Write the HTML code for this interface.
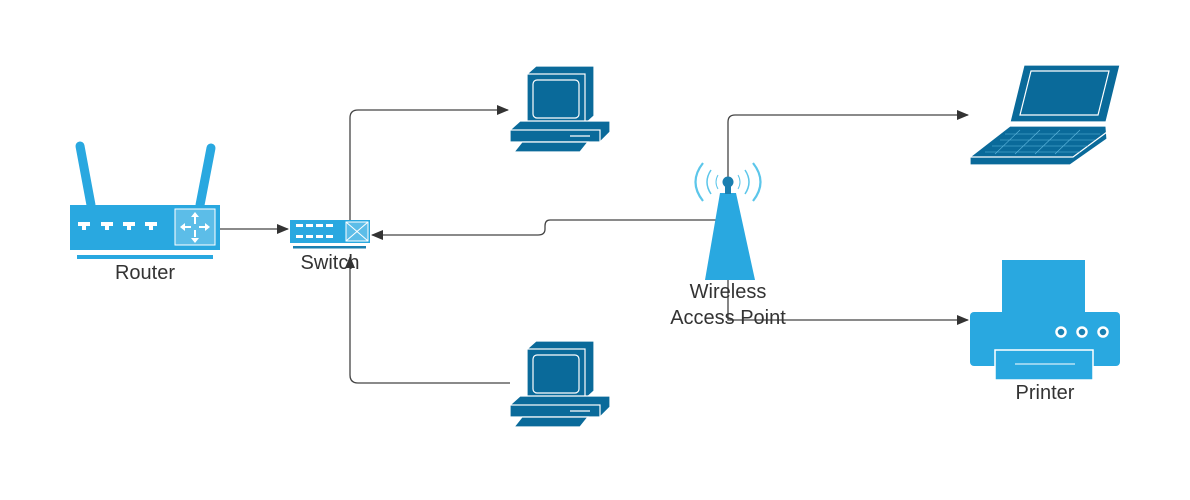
<!DOCTYPE html>
<html><head><style>body{margin:0;background:#fff}svg{display:block}text{font-family:"Liberation Sans",sans-serif;font-size:20px;fill:#333;text-anchor:middle}</style></head>
<body>
<svg width="1190" height="500" viewBox="0 0 1190 500">
<defs><marker id="a" markerWidth="12" markerHeight="10" refX="11" refY="5" orient="auto" markerUnits="userSpaceOnUse"><path d="M0,0 L12,5 L0,10 Z" fill="#333"/></marker></defs>
<g fill="none" stroke="#444" stroke-width="1.3">
<path d="M220,229 H288" marker-end="url(#a)"/>
<path d="M350,220 V118 Q350,110 358,110 H508" marker-end="url(#a)"/>
<path d="M510,383 H358 Q350,383 350,375 V257" marker-end="url(#a)"/>
<path d="M717,220 H550 Q545,220 545,226 V229 Q545,235 538,235 H372" marker-end="url(#a)"/>
<path d="M728,180 V122 Q728,115 735,115 H968" marker-end="url(#a)"/>
<path d="M728,280 V320 H968" marker-end="url(#a)"/>
</g>
<!-- router -->
<g stroke="#29a8e0" stroke-width="9" stroke-linecap="round"><path d="M80,146 L91,205"/><path d="M211,148 L200,205"/></g>
<g fill="#29a8e0">
<rect x="70" y="205" width="150" height="45"/>
<rect x="77" y="255" width="136" height="4"/>
</g>
<rect x="175" y="209" width="40" height="36" fill="#5cbde8" stroke="#fff" stroke-width="1"/>
<g fill="#fff"><path d="M78,222h12v4h-4v4h-4v-4h-4z"/><path d="M101,222h12v4h-4v4h-4v-4h-4z"/><path d="M123,222h12v4h-4v4h-4v-4h-4z"/><path d="M145,222h12v4h-4v4h-4v-4h-4z"/>
<path d="M195,212 l-4,5h8z M195,243 l-4,-5h8z M180,227 l5,-4v8z M210,227 l-5,-4v8z"/>
<path d="M194,217h2v7h-2z M194,230h2v7h-2z M184,226h7v2h-7z M199,226h7v2h-7z"/></g>
<text x="145" y="279">Router</text>
<!-- switch -->
<rect x="290" y="220" width="80" height="23" fill="#29a8e0"/>
<rect x="346" y="222" width="22" height="19" fill="#5cbde8" stroke="#fff"/>
<path d="M346,222 L368,241 M368,222 L346,241" stroke="#fff"/>
<g fill="#fff"><rect x="296" y="224" width="7" height="3"/><rect x="306" y="224" width="7" height="3"/><rect x="316" y="224" width="7" height="3"/><rect x="326" y="224" width="7" height="3"/><rect x="296" y="235" width="7" height="3"/><rect x="306" y="235" width="7" height="3"/><rect x="316" y="235" width="7" height="3"/><rect x="326" y="235" width="7" height="3"/></g>
<rect x="293" y="246" width="73" height="2.5" fill="#1a7fb0"/>
<text x="330" y="269">Switch</text>
<!-- computers -->
<g id="pc" fill="#0a6a9a" stroke="#fff" stroke-width="1.2">
<path d="M527,74 L536,66 L594,66 L594,116 L585,124 Z"/>
<rect x="527" y="74" width="58" height="50"/>
<rect x="533" y="80" width="46" height="38" rx="4" fill="none"/>
<path d="M510,130 L520,121 L610,121 L610,132 L600,142 Z"/>
<rect x="510" y="130" width="90" height="12"/>
<path d="M570,136 H590" />
<path d="M522,142 L588,142 L580,152 L514,152 Z"/>
</g>
<use href="#pc" transform="translate(0,275)"/>
<!-- AP -->
<path d="M720,193 L736,193 L755,280 L705,280 Z" fill="#29a8e0"/>
<rect x="725" y="182" width="6" height="12" fill="#1a7fb0"/>
<circle cx="728" cy="182" r="5.5" fill="#1a7fb0"/>
<g fill="none" stroke="#5cc6ea" stroke-width="2.2">
<path d="M703,163 Q688,182 703,201"/><path d="M753,163 Q768,182 753,201"/>
<path d="M711,170 Q703,182 711,194" stroke-width="1.5"/><path d="M745,170 Q753,182 745,194" stroke-width="1.5"/>
<path d="M718,175 Q714,182 718,189" stroke-width="1"/><path d="M738,175 Q742,182 738,189" stroke-width="1"/>
</g>
<text x="728" y="298">Wireless</text>
<text x="728" y="324">Access Point</text>
<!-- laptop -->
<g fill="#0a6a9a" stroke="#fff" stroke-width="1.2">
<path d="M1024,65 L1120,65 L1106,122 L1010,122 Z"/>
<path d="M1031,71 L1109,71 L1098,115 L1020,115 Z" fill="none"/>
<path d="M1010,126 L1106,126 L1107,139 L1070,165 L970,165 L970,157 Z"/>
<path d="M970,157 H1073 L1107,132" fill="none"/>
</g>
<g stroke="#5fb7de" stroke-width="0.6"><path d="M1005,134 H1100 M1000,140 H1095 M992,146 H1088 M985,152 H1080 M1020,130 L995,154 M1040,130 L1015,154 M1060,130 L1035,154 M1080,130 L1055,154"/></g>
<!-- printer -->
<g fill="#29a8e0">
<rect x="1002" y="260" width="83" height="52"/>
<rect x="970" y="312" width="150" height="54" rx="4"/>
</g>
<rect x="995" y="350" width="98" height="30" fill="#29a8e0" stroke="#fff" stroke-width="1.5"/>
<path d="M1015,364 H1075" stroke="#fff"/>
<g fill="#1a7fb0" stroke="#fff" stroke-width="2.5"><circle cx="1061" cy="332" r="4.5"/><circle cx="1082" cy="332" r="4.5"/><circle cx="1103" cy="332" r="4.5"/></g>
<text x="1045" y="399">Printer</text>
</svg>
</body></html>
